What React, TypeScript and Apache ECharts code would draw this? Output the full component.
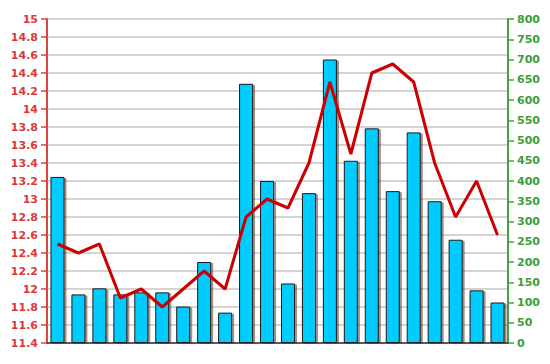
import React, { useEffect, useRef } from "react";
import * as echarts from "echarts";

const categories = ["1","2","3","4","5","6","7","8","9","10","11","12","13","14","15","16","17","18","19","20","21","22"];
const barValues = [410, 120, 135, 120, 125, 125, 90, 200, 75, 640, 400, 147, 370, 700, 450, 530, 375, 520, 350, 255, 130, 100];
const lineValues = [12.5, 12.4, 12.5, 11.9, 12.0, 11.8, 12.0, 12.2, 12.0, 12.8, 13.0, 12.9, 13.4, 14.3, 13.5, 14.4, 14.5, 14.3, 13.4, 12.8, 13.2, 12.6];

export default function App() {
  const ref = useRef<HTMLDivElement>(null);
  useEffect(() => {
    document.body.style.margin = "0";
    const chart = echarts.init(ref.current!, null, { renderer: "svg" });
    const font = "DejaVu Sans, Verdana, sans-serif";
    chart.setOption({
      animation: false,
      backgroundColor: "#ffffff",
      grid: { left: 47, right: 42, top: 19, bottom: 21, show: true, borderColor: "#555555", borderWidth: 1, backgroundColor: "transparent" },
      xAxis: {
        type: "category",
        data: categories,
        boundaryGap: true,
        axisLine: { lineStyle: { color: "#333333", width: 1.5 } },
        axisTick: { show: false },
        axisLabel: { show: false },
      },
      yAxis: [
        {
          type: "value",
          min: 11.4,
          max: 15,
          interval: 0.2,
          position: "left",
          axisLine: { show: true, lineStyle: { color: "#dd4444", width: 2 } },
          axisTick: { show: true, length: 6, lineStyle: { color: "#dd4444", width: 1.5 } },
          axisLabel: { color: "#dd3838", fontSize: 11, fontWeight: "bold", fontFamily: font, margin: 9 },
          splitLine: { show: true, lineStyle: { color: "#d4d4d4", width: 2 } },
        },
        {
          type: "value",
          min: 0,
          max: 800,
          interval: 50,
          position: "right",
          axisLine: { show: true, lineStyle: { color: "#44a044", width: 2 } },
          axisTick: { show: true, length: 6, lineStyle: { color: "#44a044", width: 1.5 } },
          axisLabel: { color: "#3a9e3a", fontSize: 11, fontWeight: "bold", fontFamily: font, margin: 9 },
          splitLine: { show: false },
        },
      ],
      series: [
        {
          type: "bar",
          yAxisIndex: 1,
          data: barValues,
          barWidth: 14,
          itemStyle: {
            color: "#00ccff",
            borderColor: "#1a1a1a",
            borderWidth: 1,
            shadowColor: "rgba(90,50,30,0.55)",
            shadowOffsetX: 2,
            shadowOffsetY: 1,
            shadowBlur: 1,
          },
        },
        {
          type: "line",
          yAxisIndex: 0,
          data: lineValues,
          showSymbol: false,
          symbol: "none",
          lineStyle: { color: "#cc0000", width: 3 },
          z: 5,
        },
      ],
    });
    return () => chart.dispose();
  }, []);
  return <div ref={ref} style={{ width: 550, height: 364, position: "absolute", left: 0, top: 0 }} />;
}
